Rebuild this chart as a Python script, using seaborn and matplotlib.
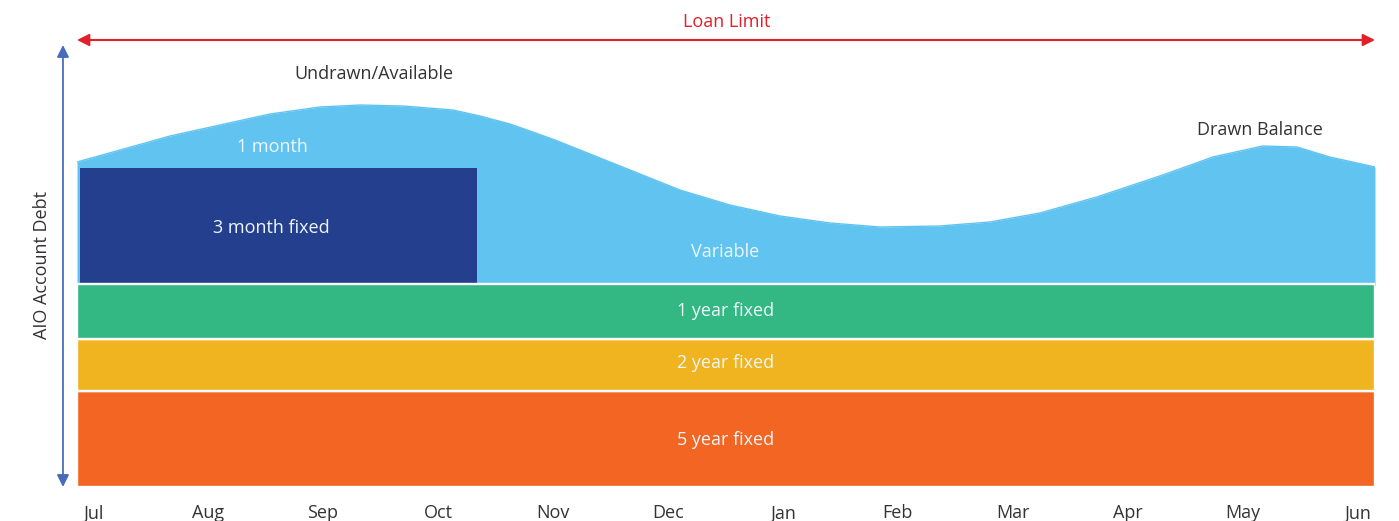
import numpy as np
import pandas as pd
import seaborn as sns
import matplotlib.pyplot as plt

MONTHS = ['Jul', 'Aug', 'Sep', 'Oct', 'Nov', 'Dec', 'Jan', 'Feb', 'Mar', 'Apr', 'May', 'Jun']

# drawn balance (top of the light blue area) in month units
BAL_X = [-0.14, 0.235, 0.67, 1.104, 1.539, 1.974, 2.322, 2.696, 3.13, 3.365,
         3.626, 3.8, 4.017, 4.235, 4.67, 5.104, 5.539, 5.974, 6.409, 6.843,
         7.365, 7.8, 8.235, 8.73, 9.304, 9.739, 10.174, 10.47, 10.757, 11.15]
BAL_Y = [325, 337, 351, 362, 373, 380, 382, 381, 377, 371,
         363, 356, 347, 337, 317, 297, 282, 271, 264, 260,
         261, 265, 274, 290, 312, 330, 341, 340, 330, 320]

# fixed bands, stacked from the bottom
BANDS = ['5 year fixed', '2 year fixed', '1 year fixed']
BAND_AMT = [96.5, 52.0, 55.0]
VAR_BASE = sum(BAND_AMT)

# 3 month fixed block
SHORT_START, SHORT_END, SHORT_AMT = -0.11, 3.34, 115.5

LOAN_LIMIT = 447
X0, X1 = -0.14, 11.15

clrs = {'lb': '#61c4f0', 'db': '#243f8d', 'grn': '#34b883',
        'yel': '#f0b421', 'org': '#f26522', 'red': '#e0202a',
        'txt': '#333333', 'ax': '#4a6cb8', 'lab': '#eef6fb'}
band_clrs = [clrs['org'], clrs['yel'], clrs['grn']]

sns.set_theme(style='white')
plt.rcParams['font.family'] = ['Open Sans', 'DejaVu Sans']
FS = 13

fig = plt.figure(figsize=(13.99, 5.21), dpi=100)
ax = fig.add_axes([77 / 1399, 34 / 521, 1298 / 1399, 487 / 521])

df = pd.DataFrame({'x': BAL_X, 'y': BAL_Y})
ax.fill_between(df['x'], VAR_BASE - 2, df['y'], color=clrs['lb'], lw=0, zorder=1)
sns.lineplot(data=df, x='x', y='y', color=clrs['lb'], lw=1, ax=ax, zorder=1)

ax.bar(SHORT_START, SHORT_AMT, width=SHORT_END - SHORT_START, bottom=VAR_BASE,
       align='edge', color=clrs['db'], lw=0, zorder=2)

bottoms = np.concatenate([[0], np.cumsum(BAND_AMT)[:-1]])
ax.barh(bottoms, X1 - X0, left=X0, height=BAND_AMT, align='edge',
        color=band_clrs, edgecolor='white', lw=1.7, zorder=3)

lab_kw = dict(ha='center', va='center', color=clrs['lab'], fontsize=FS, zorder=5)
mid = 5.5
for b, h, lbl, dy in zip(bottoms, BAND_AMT, BANDS, [-1.5, 1, -0.5]):
    ax.text(mid, b + h / 2 + dy, lbl, **lab_kw)
ax.text(mid, 235, 'Variable', **lab_kw)
ax.text(1.55, 259, '3 month fixed', **lab_kw)
ax.text(1.56, 340, '1 month', **lab_kw)

ax.text(2.44, 413, 'Undrawn/Available', ha='center', va='center', color=clrs['txt'], fontsize=FS)
ax.text(10.15, 357, 'Drawn Balance', ha='center', va='center', color=clrs['txt'], fontsize=FS)

# loan limit arrow
ax.annotate('', xy=(X1, LOAN_LIMIT), xytext=(X0, LOAN_LIMIT),
            arrowprops=dict(arrowstyle='<|-|>', color=clrs['red'], lw=1.5,
                            mutation_scale=18, shrinkA=0, shrinkB=0),
            annotation_clip=False)
ax.text(5.51, 465, 'Loan Limit', ha='center', va='center', color=clrs['red'], fontsize=FS)

# y axis arrow
ax.annotate('', xy=(-0.262, 0), xytext=(-0.262, 442),
            arrowprops=dict(arrowstyle='<|-|>', color=clrs['ax'], lw=1.3,
                            mutation_scale=18, shrinkA=0, shrinkB=0),
            annotation_clip=False)
fig.text(42 / 1399, 1 - 265 / 521, 'AIO Account Debt', rotation=90, ha='center',
         va='center', color=clrs['txt'], fontsize=FS)

ax.set_xlim(X0, X1)
ax.set_ylim(0, 487)
ax.set_xticks(range(len(MONTHS)))
ax.set_xticklabels(MONTHS, fontsize=FS, color=clrs['txt'])
ax.tick_params(axis='x', length=0, pad=12.5)
ax.set_yticks([])
ax.set_xlabel('')
ax.set_ylabel('')
for s in ax.spines.values():
    s.set_visible(False)

fig.savefig('out.png', dpi=100, facecolor='white')
